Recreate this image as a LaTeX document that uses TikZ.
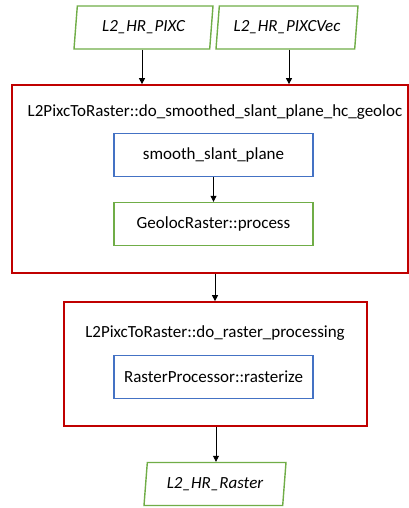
\documentclass[tikz,border=0pt]{standalone}
\usepackage{fontspec}
\setmainfont{Carlito}
\usetikzlibrary{shapes.geometric,arrows.meta}
\definecolor{boxred}{HTML}{C00000}
\definecolor{boxblue}{HTML}{4472C4}
\definecolor{boxgreen}{HTML}{70AD47}
\begin{document}
\begin{tikzpicture}[x=1pt,y=-1pt,
  txt/.style={font=\fontsize{17}{19}\selectfont},
  iofile/.style={trapezium, trapezium left angle=76, trapezium right angle=104,
    trapezium stretches body, draw=boxgreen, line width=1.4pt, fill=white,
    minimum height=43pt, inner sep=0pt, font=\fontsize{17}{19}\selectfont\itshape},
  group/.style={draw=boxred, line width=1.7pt, fill=white, inner sep=0pt},
  stepbox/.style={draw=#1, line width=1.4pt, fill=white, minimum width=199pt,
    minimum height=43pt, inner sep=0pt, txt},
  flow/.style={-{Triangle[length=6pt,width=6pt]}, line width=0.8pt, black}]
\useasboundingbox (0,0) rectangle (409,508);

% inputs
\node[iofile, minimum width=139pt] (pixc) at (143.5,27.5) {L2\_HR\_PIXC};
\node[iofile, minimum width=142pt] (pixcvec) at (287,27.5) {L2\_HR\_PIXCVec};

% first processing stage
\node[group, minimum width=396pt, minimum height=188pt] (geo) at (210,179) {};
\node[txt] (geot) at (215,112) {L2PixcToRaster::do\_smoothed\_slant\_plane\_hc\_geoloc};
\node[stepbox=boxblue] (smooth) at (213.5,155) {smooth\_slant\_plane};
\node[stepbox=boxgreen] (geoloc) at (213.5,224) {GeolocRaster::process};

% second processing stage
\node[group, minimum width=303pt, minimum height=124pt] (ras) at (215.5,364) {};
\node[txt] (rast) at (215,333) {L2PixcToRaster::do\_raster\_processing};
\node[stepbox=boxblue] (rasterize) at (213.5,377) {RasterProcessor::rasterize};

% output
\node[iofile, minimum width=142pt] (out) at (215,484) {L2\_HR\_Raster};

% connectors
\draw[flow] (pixc.south -| 142,0) -- (geo.north -| 142,0);
\draw[flow] (pixcvec.south -| 289,0) -- (geo.north -| 289,0);
\draw[flow] (smooth) -- (geoloc);
\draw[flow] (geo.south -| 215,0) -- (ras.north -| 215,0);
\draw[flow] (ras.south -| 216,0) -- (out.north -| 216,0);
\end{tikzpicture}
\end{document}
